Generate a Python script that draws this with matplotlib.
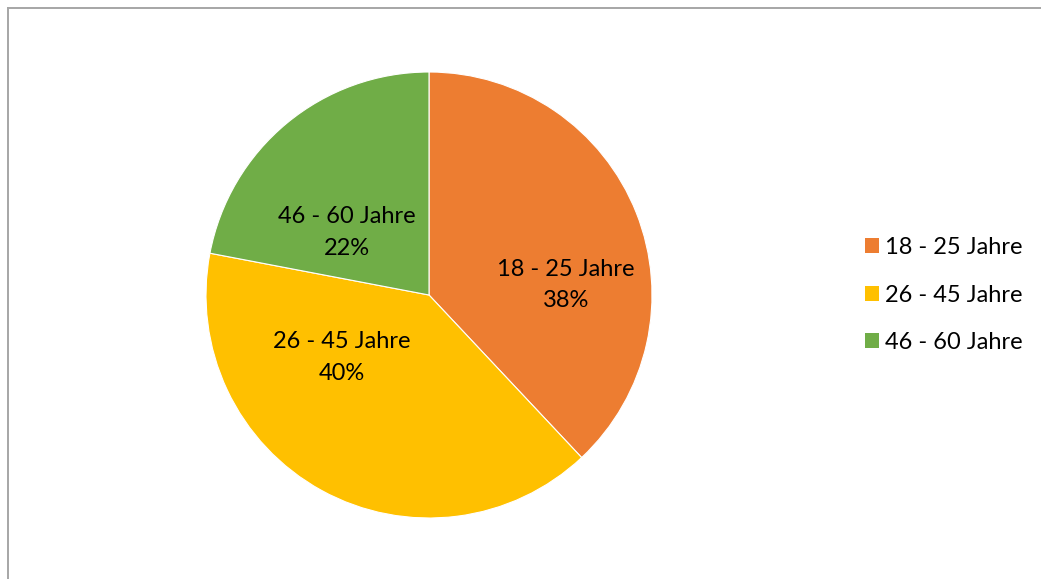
import matplotlib.pyplot as plt
from matplotlib.lines import Line2D

categories = ["18 - 25 Jahre", "26 - 45 Jahre", "46 - 60 Jahre"]
shares = [38, 40, 22]
colors = ["#ED7D31", "#FFC000", "#70AD47"]
# label anchor points (fraction of radius) as Excel placed them
label_pos = [(0.615, 0.045), (-0.39, -0.28), (-0.37, 0.28)]

plt.rcParams["font.family"] = ["Lato", "DejaVu Sans"]

fig = plt.figure(figsize=(10.41, 5.79), dpi=100)
fig.patch.set_facecolor("white")

# chart frame (only top and left edges visible)
fig.add_artist(Line2D([7.5 / 1041, 1], [1 - 7.5 / 579] * 2, color="#A6A6A6", lw=1.4))
fig.add_artist(Line2D([7.5 / 1041] * 2, [0, 1 - 7.5 / 579], color="#A6A6A6", lw=1.4))

ax = fig.add_axes([206 / 1041, 61 / 579, 446 / 1041, 446 / 579])
wedges, _ = ax.pie(shares, colors=colors, startangle=90, counterclock=False,
                   radius=1, wedgeprops=dict(edgecolor="white", linewidth=0.8))
ax.set_xlim(-1, 1)
ax.set_ylim(-1, 1)
ax.set_aspect("equal")
ax.axis("off")

for cat, val, (lx, ly) in zip(categories, shares, label_pos):
    ax.text(lx, ly, f"{cat}\n{val}%", ha="center", va="center",
            fontsize=17, color="black", linespacing=1.6)

handles = [plt.Rectangle((0, 0), 1, 1, facecolor=c) for c in colors]
fig.legend(handles, categories, loc="center left", bbox_to_anchor=(853 / 1041, 1 - 295 / 579),
           frameon=False, fontsize=17, handlelength=0.6, handleheight=0.6,
           handletextpad=0.25, labelspacing=1.12, borderpad=0)

fig.savefig("out.png", dpi=100, facecolor="white")
